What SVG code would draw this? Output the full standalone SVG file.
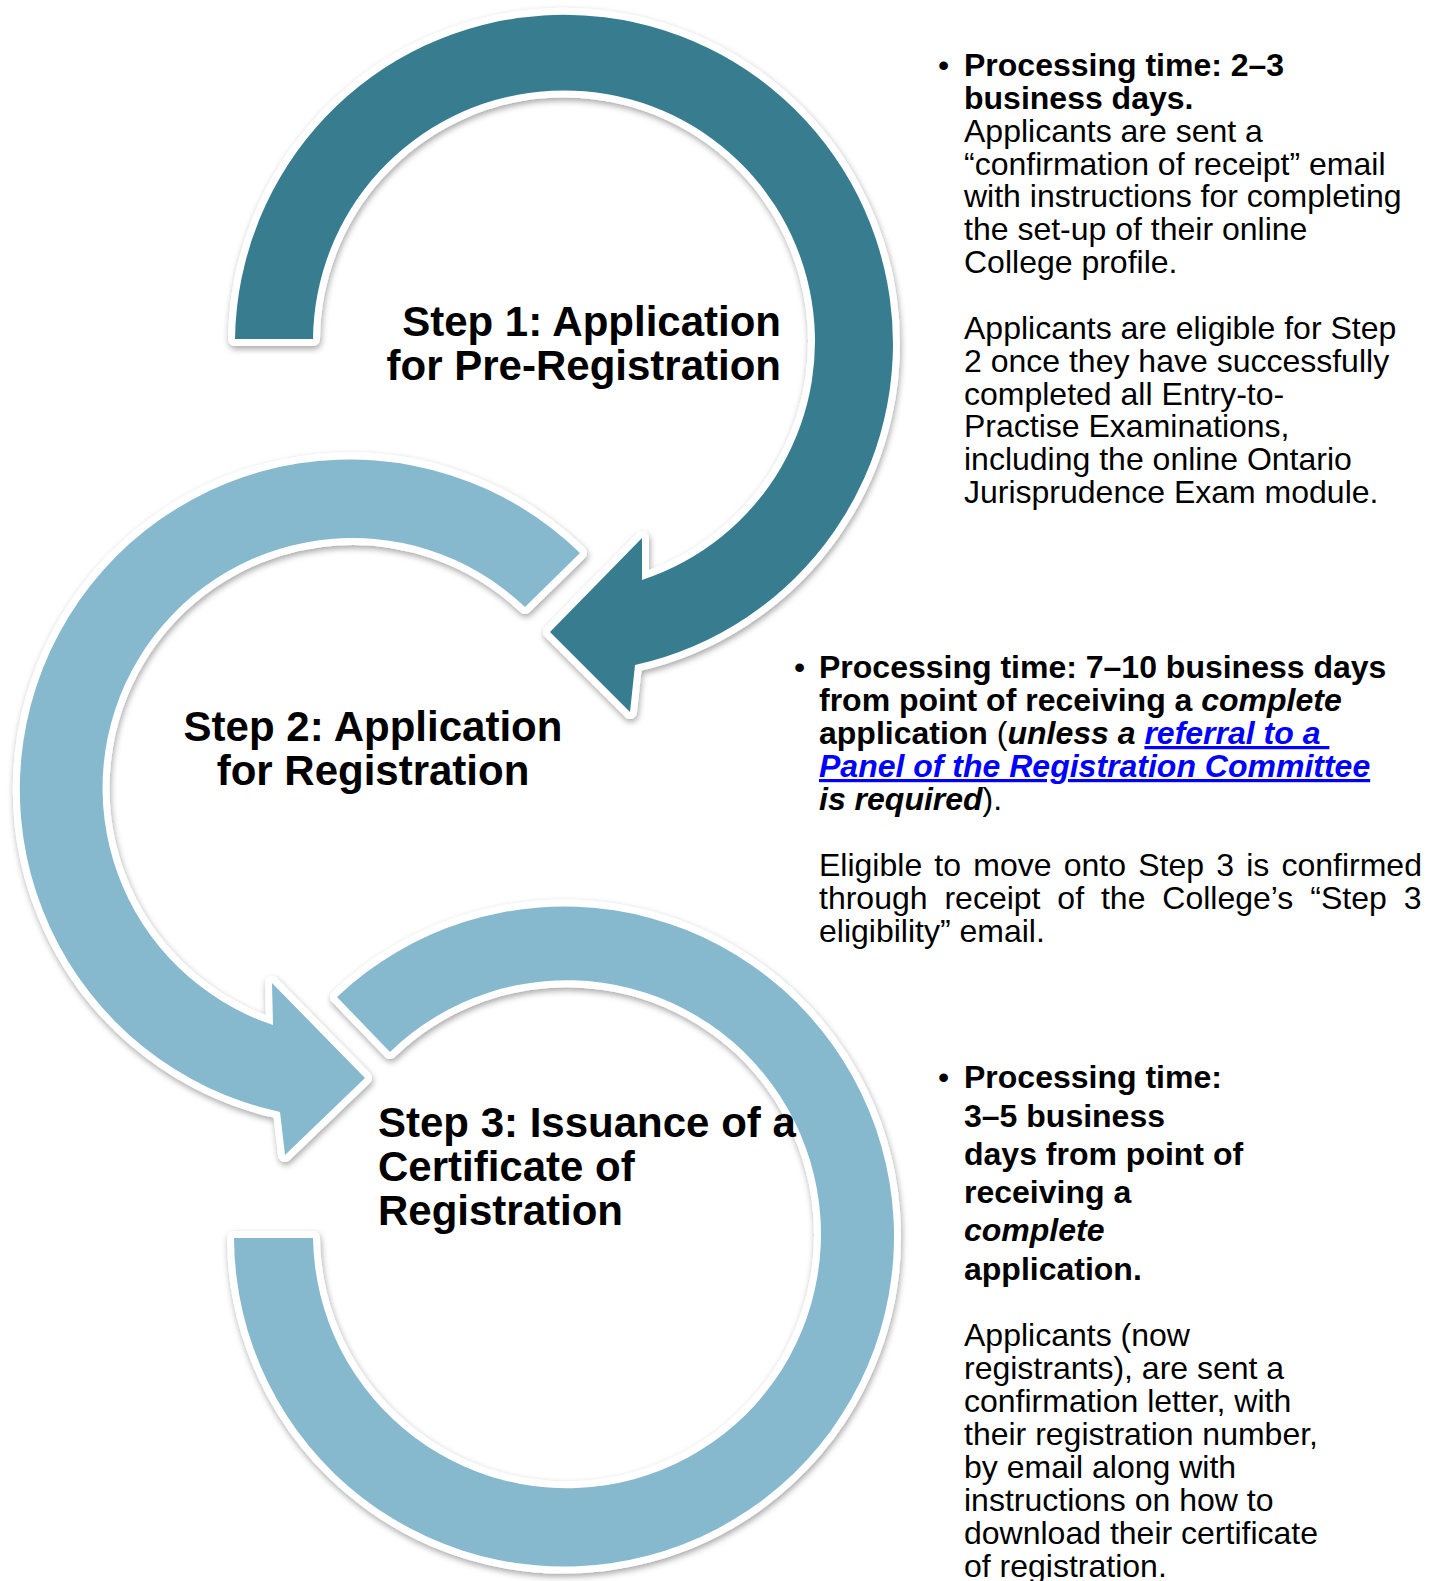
<svg xmlns="http://www.w3.org/2000/svg" width="1440" height="1581" viewBox="0 0 1440 1581">
<defs>
<filter id="sh" x="-10%" y="-10%" width="120%" height="120%">
<feDropShadow dx="1" dy="3" stdDeviation="3" flood-color="#000" flood-opacity="0.35"/>
</filter>
<style>
.arc{stroke:#fff;stroke-width:14;stroke-linejoin:round;paint-order:stroke;filter:url(#sh)}
.dark{fill:#377C90}
.light{fill:#87B9CE}
.lbl{font-family:"Liberation Sans",Arial,sans-serif;font-size:42px;font-weight:bold;fill:#000}
.txt{font-family:"Liberation Sans",Arial,sans-serif;font-size:32px;fill:#000}
.b{font-weight:bold}
.bi{font-weight:bold;font-style:italic}
.lnk{font-weight:bold;font-style:italic;fill:#0000FF;text-decoration:underline}
</style>
</defs>
<rect width="1440" height="1581" fill="#fff"/>
<g id="connectors">
<path id="arrow3" class="arc light" d="M 337 997 A 330 330 0 1 1 234 1238 L 313 1238 A 254 254 0 1 0 390 1052 Z"/>
<path id="arrow2" class="arc light" d="M 580 553 A 330 330 0 1 0 280 1112 L 285 1155 L 365 1078 L 272 983 L 273 1025 A 250 250 0 1 1 525 607 Z"/>
<path id="arrow1" class="arc dark" d="M 235 339 A 329 329 0 1 1 635 665 L 630 712 L 550 632 L 642 538 L 642 580 A 251 251 0 1 0 313 339 Z"/>
</g>
<g id="step1">
<text class="lbl" text-anchor="end"><tspan x="781" y="336">Step 1: Application</tspan><tspan x="781" y="380">for Pre-Registration</tspan></text>
</g>
<g id="step2">
<text class="lbl" text-anchor="middle"><tspan x="373" y="741">Step 2: Application</tspan><tspan x="373" y="785">for Registration</tspan></text>
</g>
<g id="step3">
<text class="lbl"><tspan x="378" y="1137">Step 3: Issuance of a</tspan><tspan x="378" y="1181">Certificate of</tspan><tspan x="378" y="1225">Registration</tspan></text>
</g>
<g id="note1">
<text class="txt" x="938" y="76">•</text>
<text class="txt b"><tspan x="964" y="76">Processing time: 2–3</tspan><tspan x="964" y="109">business days.</tspan></text>
<text class="txt"><tspan x="964" y="142">Applicants are sent a</tspan><tspan x="964" y="175">“confirmation of receipt” email</tspan><tspan x="964" y="207">with instructions for completing</tspan><tspan x="964" y="240">the set-up of their online</tspan><tspan x="964" y="273">College profile.</tspan><tspan x="964" y="339">Applicants are eligible for Step</tspan><tspan x="964" y="372">2 once they have successfully</tspan><tspan x="964" y="405">completed all Entry-to-</tspan><tspan x="964" y="437">Practise Examinations,</tspan><tspan x="964" y="470">including the online Ontario</tspan><tspan x="964" y="503">Jurisprudence Exam module.</tspan></text>
</g>
<g id="note2">
<text class="txt" x="794" y="678">•</text>
<text class="txt b" x="819" y="678">Processing time: 7–10 business days</text>
<text class="txt b" x="819" y="711" xml:space="preserve">from point of receiving a <tspan class="bi">complete</tspan></text>
<text class="txt" x="819" y="744" xml:space="preserve"><tspan class="b">application </tspan>(<tspan class="bi">unless a </tspan><tspan class="lnk">referral to a </tspan></text>
<text class="txt lnk" x="819" y="777">Panel of the Registration Committee</text>
<text class="txt" x="819" y="810" xml:space="preserve"><tspan class="bi">is required</tspan>).</text>
<text class="txt" x="819" y="876" word-spacing="3.3">Eligible to move onto Step 3 is confirmed</text>
<text class="txt" x="819" y="909" word-spacing="8">through receipt of the College’s “Step 3</text>
<text class="txt" x="819" y="942">eligibility” email.</text>
</g>
<g id="note3">
<text class="txt" x="938" y="1088">•</text>
<text class="txt b"><tspan x="964" y="1088">Processing time:</tspan><tspan x="964" y="1127">3–5 business</tspan><tspan x="964" y="1165">days from point of</tspan><tspan x="964" y="1203">receiving a</tspan><tspan x="964" y="1241" font-style="italic">complete</tspan><tspan x="964" y="1280">application.</tspan></text>
<text class="txt"><tspan x="964" y="1346">Applicants (now</tspan><tspan x="964" y="1379">registrants), are sent a</tspan><tspan x="964" y="1412">confirmation letter, with</tspan><tspan x="964" y="1445">their registration number,</tspan><tspan x="964" y="1478">by email along with</tspan><tspan x="964" y="1511">instructions on how to</tspan><tspan x="964" y="1544">download their certificate</tspan><tspan x="964" y="1577">of registration.</tspan></text>
</g>
</svg>
